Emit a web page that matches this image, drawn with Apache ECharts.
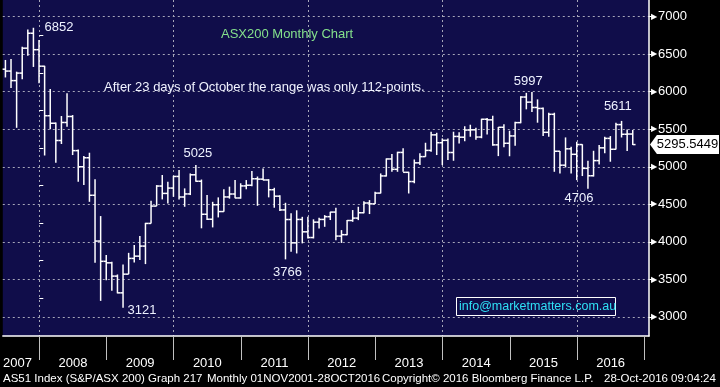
<!DOCTYPE html>
<html>
<head>
<meta charset="utf-8">
<script src="https://cdn.jsdelivr.net/npm/echarts@6/dist/echarts.min.js"></script>
<style>html,body{margin:0;padding:0;background:#000;}#chart{width:720px;height:387px;}</style>
</head>
<body>
<div id="chart"></div>
<script>
// ---- data ----
const months = [
  '2007-06','2007-07','2007-08','2007-09','2007-10','2007-11','2007-12',
  '2008-01','2008-02','2008-03','2008-04','2008-05','2008-06','2008-07','2008-08','2008-09','2008-10','2008-11','2008-12',
  '2009-01','2009-02','2009-03','2009-04','2009-05','2009-06','2009-07','2009-08','2009-09','2009-10','2009-11','2009-12',
  '2010-01','2010-02','2010-03','2010-04','2010-05','2010-06','2010-07','2010-08','2010-09','2010-10','2010-11','2010-12',
  '2011-01','2011-02','2011-03','2011-04','2011-05','2011-06','2011-07','2011-08','2011-09','2011-10','2011-11','2011-12',
  '2012-01','2012-02','2012-03','2012-04','2012-05','2012-06','2012-07','2012-08','2012-09','2012-10','2012-11','2012-12',
  '2013-01','2013-02','2013-03','2013-04','2013-05','2013-06','2013-07','2013-08','2013-09','2013-10','2013-11','2013-12',
  '2014-01','2014-02','2014-03','2014-04','2014-05','2014-06','2014-07','2014-08','2014-09','2014-10','2014-11','2014-12',
  '2015-01','2015-02','2015-03','2015-04','2015-05','2015-06','2015-07','2015-08','2015-09','2015-10','2015-11','2015-12',
  '2016-01','2016-02','2016-03','2016-04','2016-05','2016-06','2016-07','2016-08','2016-09','2016-10'
];
const opens = [
  6300,6275,6148,6248,6580,6779,6560,
  6340,5680,5580,5350,5590,5670,5215,5000,5120,4620,4010,3740,
  3720,3543,3320,3569,3779,3809,3943,4245,4476,4743,4645,4716,
  4871,4597,4638,4893,4807,4367,4301,4494,4403,4598,4637,4584,
  4745,4754,4840,4835,4824,4694,4608,4425,4297,3986,4298,4133,
  4057,4262,4298,4335,4396,4076,4095,4284,4316,4387,4517,4506,
  4649,4878,5104,4966,5191,4926,4803,5052,5135,5218,5425,5320,
  5352,5190,5404,5394,5489,5492,5396,5633,5625,5292,5526,5313,
  5411,5588,5929,5861,5790,5777,5459,5699,5207,5021,5239,5166,
  5296,4979,4880,5082,5252,5378,5233,5562,5433,5436
];
const highs = [
  6423,6437,6267,6600,6830,6852,6690,
  6345,6036,5590,5676,5980,5689,5231,5143,5187,4832,4343,3823,
  3733,3565,3698,3853,3956,4076,4253,4547,4756,4890,4800,4880,
  4956,4712,4911,5025,4830,4623,4533,4592,4700,4735,4823,4780,
  4823,4943,4870,4977,4835,4720,4620,4520,4380,4420,4333,4333,
  4300,4320,4356,4400,4454,4156,4289,4423,4467,4540,4556,4667,
  4911,5111,5169,5200,5245,4933,5097,5179,5320,5467,5453,5378,
  5378,5467,5460,5540,5560,5520,5640,5650,5680,5530,5565,5480,
  5600,5940,5985,5997,5898,5790,5720,5720,5209,5391,5267,5333,
  5300,5080,5213,5290,5400,5409,5587,5611,5498,5490
];
const lows = [
  6190,6050,5519,6165,6480,6330,6112,
  5150,5500,5053,5303,5533,5156,4800,4756,4533,3720,3213,3489,
  3347,3313,3121,3569,3725,3756,3703,4245,4476,4565,4512,4600,
  4565,4467,4623,4800,4180,4289,4192,4325,4400,4575,4579,4575,
  4700,4740,4480,4820,4592,4454,4409,3766,3867,3845,3979,4045,
  4045,4178,4200,4290,4022,3985,4089,4267,4289,4380,4370,4505,
  4645,4870,4933,4933,4933,4644,4780,5023,5133,5200,5156,5022,
  5089,5080,5310,5340,5400,5360,5380,5430,5280,5142,5260,5140,
  5280,5580,5765,5730,5587,5409,5400,4933,4911,4991,4911,4822,
  4876,4706,4870,5030,5180,5067,5231,5390,5209,5290
];
const closes = [
  6275,6148,6248,6580,6779,6560,6340,
  5680,5580,5350,5590,5670,5215,5000,5120,4620,4010,3740,3720,
  3543,3320,3569,3779,3809,3943,4245,4476,4743,4645,4716,4871,
  4597,4638,4893,4807,4367,4301,4494,4403,4598,4637,4584,4745,
  4754,4840,4835,4824,4694,4608,4425,4297,3986,4298,4133,4057,
  4262,4298,4335,4396,4076,4095,4284,4316,4387,4517,4506,4649,
  4878,5104,4966,5191,4926,4803,5052,5135,5218,5425,5320,5352,
  5190,5404,5394,5489,5492,5396,5633,5625,5292,5526,5313,5411,
  5588,5929,5861,5790,5777,5459,5699,5207,5021,5239,5166,5296,
  4979,4880,5082,5252,5378,5233,5562,5433,5436,5295.5449
];
const yTicks = [3000,3500,4000,4500,5000,5500,6000,6500,7000];
const yMinorTicks = [3250,3750,4250,4750,5250,5750,6250,6750];
const yearLabels = ['2007','2008','2009','2010','2011','2012','2013','2014','2015','2016'];
const lastPrice = 5295.5449;
// annotated extremes: [month, value, text]
const extremes = [
  ['2007-11', 6852, '6852'],
  ['2009-03', 3121, '3121'],
  ['2010-04', 5025, '5025'],
  ['2011-08', 3766, '3766'],
  ['2015-04', 5997, '5997'],
  ['2016-02', 4706, '4706'],
  ['2016-08', 5611, '5611']
];

// ---- layout / style ----
const FONT = '"Liberation Sans", Arial, sans-serif';
const xMin = -6.52, xMax = 108.85;
function monthToX(m) { const p = m.split('-'); return (+p[0] - 2008) * 12 + (+p[1]) - 0.05; }
const extremeOffsets = {
  '6852': [25.5, 0], '3121': [19, 2.5], '5025': [2, -11.5], '3766': [2, 13.5],
  '5997': [-3.7, -11], '4706': [-9, 10], '5611': [-3.7, -14]
};
const yearTickValues = [0,12,24,36,48,60,72,84,96,108];
const yearLabelValues = [-3.9,6,18,30,42,54,66,78,90,102];
const gridLineValues = [0,24,48,72,96];
const dash = { color: '#a6a6b8', width: 1, type: [2, 3] };

const data = months.map((m, i) => [monthToX(m), opens[i], highs[i], lows[i], closes[i]]);

const markData = extremes.map(e => ({
  coord: [monthToX(e[0]), e[1]],
  symbol: 'circle', symbolSize: 0,
  label: { show: true, position: 'inside', formatter: e[2], offset: extremeOffsets[e[2]],
           color: '#eef2ff', fontSize: 13, fontFamily: FONT }
}));
markData.push({
  coord: [xMax, lastPrice],
  symbol: 'path://M0,10 L7,0 L70,0 L70,20 L7,20 Z',
  symbolSize: [69, 19], symbolOffset: [35.5, 0], symbolKeepAspect: false,
  itemStyle: { color: '#ffffff' },
  label: { show: true, position: 'inside', formatter: String(lastPrice), offset: [3, 0],
           color: '#000', fontSize: 13, fontFamily: FONT }
});

const chart = echarts.init(document.getElementById('chart'), null, { renderer: 'canvas' });
chart.setOption({
  animation: false,
  backgroundColor: '#000000',
  grid: { left: 0, top: 0, width: 649, height: 336, show: true, backgroundColor: '#100d4a', borderWidth: 0 },
  xAxis: [
    { type: 'value', min: xMin, max: xMax, position: 'bottom',
      axisLine: { show: true, onZero: false, lineStyle: { color: '#ffffff', width: 1.5 } },
      axisTick: { show: true, customValues: yearTickValues, length: 24, lineStyle: { color: '#c0c0c0', width: 1 } },
      axisLabel: { show: true, customValues: yearLabelValues, margin: 21, color: '#ffffff', fontSize: 13, fontFamily: FONT,
        formatter: function (v) { return yearLabels[Math.floor(v / 12) + 1]; } },
      splitLine: { show: false } },
    { type: 'value', min: xMin, max: xMax, position: 'bottom',
      axisLine: { show: false }, axisTick: { show: false, customValues: gridLineValues },
      axisLabel: { show: false }, splitLine: { show: true, lineStyle: dash } }
  ],
  yAxis: [
    { type: 'value', min: 2745, max: 7222, position: 'right', offset: 0,
      axisLine: { show: true, onZero: false, lineStyle: { color: '#ffffff', width: 1.5 } },
      axisTick: { show: true, customValues: yTicks, length: 3, lineStyle: { color: '#ffffff', width: 1 } },
      axisLabel: { show: true, customValues: yTicks, margin: 2,
        formatter: function (v) { return '{t|\u25B6}{n|' + v + '}'; },
        rich: { t: { fontSize: 8, color: '#ffffff', padding: [0, 1, 0, 0] },
                n: { fontSize: 13, color: '#ffffff', fontFamily: FONT } } },
      splitLine: { show: true, lineStyle: dash } },
    { type: 'value', min: 2745, max: 7222, position: 'right', offset: 0,
      axisLine: { show: false },
      axisTick: { show: true, customValues: yMinorTicks, length: 4, lineStyle: { color: '#ffffff', width: 1 } },
      axisLabel: { show: false }, splitLine: { show: false } }
  ],
  graphic: [
    { type: 'text', x: 221, y: 34, style: { text: 'ASX200 Monthly Chart', fill: '#84e08c', font: '13px ' + FONT, textVerticalAlign: 'middle' } },
    { type: 'text', x: 104, y: 87, style: { text: 'After 23 days of October the range was only 112-points.', fill: '#f0f2ff', font: '13px ' + FONT, textVerticalAlign: 'middle' } },
    { type: 'rect', shape: { x: 456.5, y: 297.5, width: 159, height: 18 }, style: { fill: 'none', stroke: '#ffffff', lineWidth: 1 } },
    { type: 'text', x: 459, y: 307, style: { text: 'info@marketmatters.com.au', fill: '#2fe0f5', font: '12.5px ' + FONT, textVerticalAlign: 'middle' } },
    { type: 'text', x: 3, y: 379, style: { text: 'AS51 Index (S&P/ASX 200) Graph 217', fill: '#ffffff', font: '11.5px ' + FONT, textVerticalAlign: 'middle' } },
    { type: 'text', x: 207, y: 379, style: { text: 'Monthly 01NOV2001-28OCT2016', fill: '#ffffff', font: '11.5px ' + FONT, textVerticalAlign: 'middle' } },
    { type: 'text', x: 382, y: 379, style: { text: 'Copyright\u00A9 2016 Bloomberg Finance L.P.', fill: '#ffffff', font: '11.5px ' + FONT, textVerticalAlign: 'middle' } },
    { type: 'text', x: 604, y: 379, style: { text: '28-Oct-2016 09:04:24', fill: '#ffffff', font: '11.5px ' + FONT, textVerticalAlign: 'middle' } }
  ],
  series: [{
    type: 'custom',
    xAxisIndex: 0, yAxisIndex: 0,
    encode: { x: 0, y: [1, 2, 3, 4] },
    data: data,
    clip: false,
    renderItem: function (params, api) {
      const x = api.value(0);
      const o = api.coord([x, api.value(1)]);
      const h = api.coord([x, api.value(2)]);
      const l = api.coord([x, api.value(3)]);
      const c = api.coord([x, api.value(4)]);
      const w = 2.8;
      const st = { stroke: '#ffffff', lineWidth: 1.5 };
      return { type: 'group', children: [
        { type: 'line', shape: { x1: h[0], y1: h[1], x2: l[0], y2: l[1] }, style: st },
        { type: 'line', shape: { x1: o[0] - w, y1: o[1], x2: o[0], y2: o[1] }, style: st },
        { type: 'line', shape: { x1: c[0], y1: c[1], x2: c[0] + w, y2: c[1] }, style: st }
      ] };
    },
    markPoint: { silent: true, animation: false, data: markData }
  }]
});
</script>
</body>
</html>
